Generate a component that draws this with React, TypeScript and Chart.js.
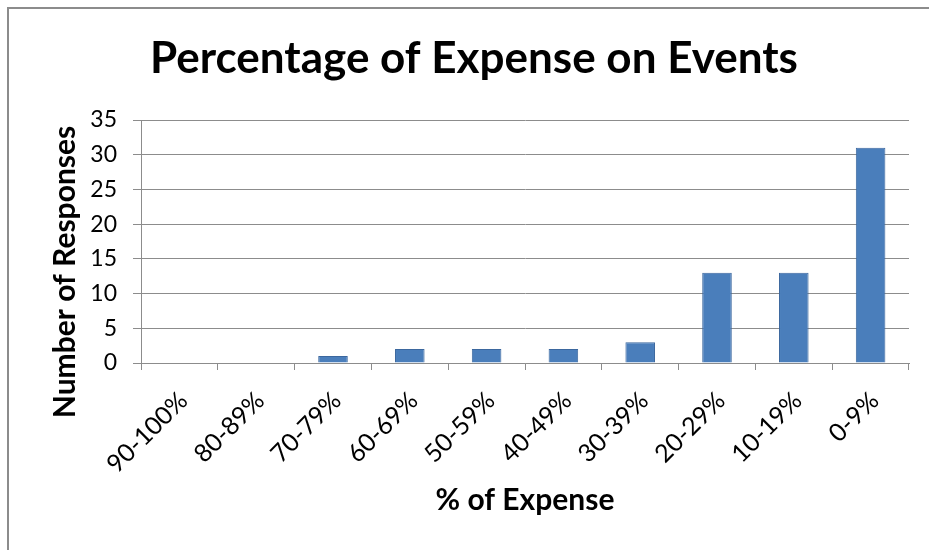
import React, { useEffect, useRef } from "react";
import { Chart, registerables } from "chart.js";

Chart.register(...registerables);

const categories = ["90-100%", "80-89%", "70-79%", "60-69%", "50-59%", "40-49%", "30-39%", "20-29%", "10-19%", "0-9%"];
const responses = [0, 0, 1, 2, 2, 2, 3, 13, 13, 31];
const yTicks = [0, 5, 10, 15, 20, 25, 30, 35];
const chartTitle = "Percentage of Expense on Events";
const xTitle = "% of Expense";
const yTitle = "Number of Responses";

const FONT = "Lato";

const chartTitles = {
  id: "chartTitles",
  afterDraw(chart: any) {
    const { ctx, chartArea } = chart;
    ctx.save();
    ctx.fillStyle = "#000";
    ctx.textAlign = "center";
    ctx.textBaseline = "alphabetic";
    ctx.font = `bold 44px ${FONT}`;
    ctx.fillText(chartTitle, 465, 64);
    ctx.textBaseline = "middle";
    ctx.font = `bold 30px ${FONT}`;
    ctx.fillText(xTitle, (chartArea.left + chartArea.right) / 2, 491);
    ctx.translate(56, 263);
    ctx.rotate(-Math.PI / 2);
    ctx.fillText(yTitle, 0, 0);
    ctx.restore();
  },
};

export default function App() {
  const ref = useRef<HTMLCanvasElement | null>(null);

  useEffect(() => {
    if (!ref.current) return;
    const chart = new Chart(ref.current, {
      type: "bar",
      data: {
        labels: categories,
        datasets: [
          {
            label: yTitle,
            data: responses,
            backgroundColor: "#4a7ebb",
            borderColor: "#3b679e",
            borderWidth: 1,
            barPercentage: 0.385,
            categoryPercentage: 1,
          },
        ],
      },
      options: {
        responsive: false,
        animation: false,
        layout: { padding: { left: 0, right: 20, top: 111, bottom: 0 } },
        plugins: {
          legend: { display: false },
          tooltip: { enabled: false },
          title: { display: false },
        },
        scales: {
          x: {
            grid: {
              display: true,
              drawOnChartArea: false,
              drawTicks: true,
              tickLength: 7,
              color: "#8c8c8c",
              offset: true,
            },
            border: { display: true, color: "#8c8c8c" },
            ticks: {
              color: "#000",
              font: { family: FONT, size: 25 },
              minRotation: 45,
              maxRotation: 45,
              padding: 16,
              labelOffset: 4,
            },
            afterFit: (s: any) => {
              s.height = 187;
            },
          },
          y: {
            min: 0,
            max: 35,
            afterBuildTicks: (s: any) => {
              s.ticks = yTicks.map((v) => ({ value: v }));
            },
            grid: { color: "#8c8c8c", tickLength: 8 },
            border: { display: true, color: "#8c8c8c" },
            ticks: {
              color: "#000",
              font: { family: FONT, size: 23 },
              padding: 16,
            },
            afterFit: (s: any) => {
              s.width = 132;
            },
          },
        },
      },
      plugins: [chartTitles],
    });
    return () => chart.destroy();
  }, []);

  return (
    <div
      style={{
        position: "absolute",
        left: 7,
        top: 7,
        width: 922,
        height: 543,
        borderLeft: "2px solid #8c8c8c",
        borderTop: "2px solid #8c8c8c",
        boxSizing: "border-box",
        background: "#fff",
      }}
    >
      <canvas ref={ref} width={920} height={541} style={{ display: "block", width: 920, height: 541 }} />
    </div>
  );
}
